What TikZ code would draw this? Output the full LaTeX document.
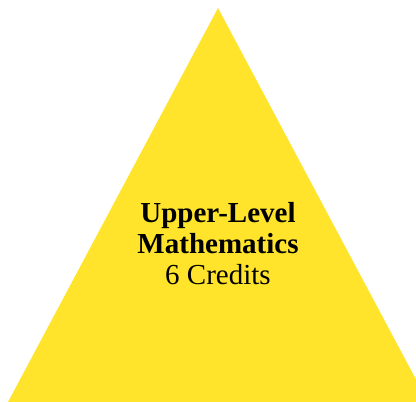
\documentclass[tikz,border=0pt]{standalone}
\usepackage{fontspec}
\setmainfont{Liberation Serif}
\definecolor{pyryellow}{HTML}{FFE42B}
\begin{document}
\begin{tikzpicture}[
x=1pt, y=1pt,
label/.style={
align=center,
inner sep=0pt,
font=\fontsize{29}{31}\selectfont
}
]

\useasboundingbox (0,0) rectangle (416,402);

\coordinate (L) at (8,0);
\coordinate (R) at (428,0);
\coordinate (T) at (218,394);

\fill[pyryellow] (L) -- (T) -- (R) -- cycle;

\node[label, anchor=base] (U) at (218,117) {\textbf{Upper-Level}\\\textbf{Mathematics}\\6 Credits};

\end{tikzpicture}
\end{document}
